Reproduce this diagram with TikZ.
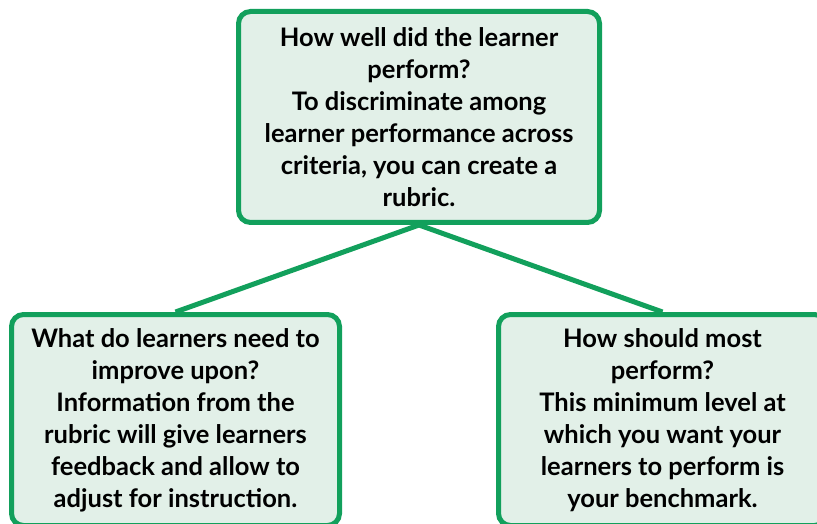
\documentclass[tikz,border=0pt]{standalone}
\usepackage{fontspec}
\setmainfont{Lato}
\definecolor{rimgreen}{HTML}{12A05C}
\definecolor{boxmint}{HTML}{E2F0E8}
\begin{document}
\begin{tikzpicture}
    [
        x=1pt, y=1pt,
        level/.style={sibling distance = 487pt, level distance = 303pt},
        every node/.style={draw=rimgreen, line width=5pt, fill=boxmint, rounded corners=12pt,
            minimum width=361pt, minimum height=211pt, align=center,
            font=\fontsize{25.5}{32}\selectfont\bfseries, inner sep=0pt},
        every child node/.style={minimum width=328pt},
        edge from parent/.style={draw=rimgreen, line width=5pt},
        edge from parent path={(\tikzparentnode.south) -- (\tikzchildnode.north)}
    ]
    \useasboundingbox (0,0) rectangle (817,523);

    \node (judge) at (419,406) {How well did the learner\\ perform?\\ To discriminate among\\ learner performance across\\ criteria, you can create a\\ rubric.}
        child {node (improve) {What do learners need to\\ improve upon?\\ Information from the\\ rubric will give learners\\ feedback and allow to\\ adjust for instruction.}}
        child {node (bench) {How should most\\ perform?\\ This minimum level at\\ which you want your\\ learners to perform is\\ your benchmark.}}
    ;
\end{tikzpicture}
\end{document}
